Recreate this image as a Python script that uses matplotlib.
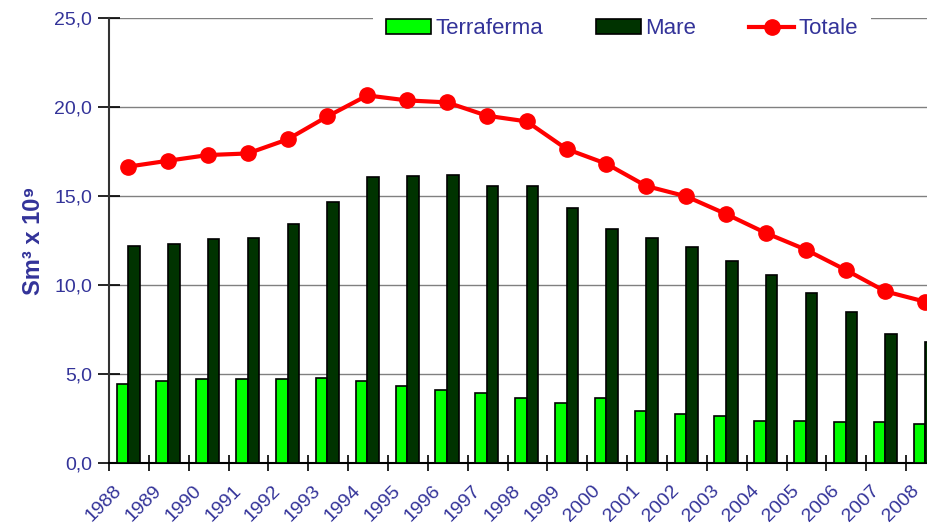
import numpy as np
import matplotlib.pyplot as plt
from matplotlib.ticker import FixedLocator, FuncFormatter
from matplotlib.transforms import ScaledTranslation

plt.rcParams['font.family'] = ['Liberation Sans', 'DejaVu Sans']

anni = [str(a) for a in range(1988, 2009)]
terraferma = [4.44, 4.62, 4.70, 4.74, 4.70, 4.79, 4.59, 4.31, 4.10, 3.93, 3.63,
              3.36, 3.66, 2.90, 2.76, 2.65, 2.35, 2.37, 2.29, 2.31, 2.20]
mare = [12.17, 12.32, 12.56, 12.64, 13.44, 14.66, 16.07, 16.10, 16.16, 15.54, 15.54,
        14.33, 13.12, 12.62, 12.15, 11.33, 10.54, 9.55, 8.48, 7.25, 6.80]
totale = [16.65, 16.98, 17.30, 17.39, 18.18, 19.47, 20.65, 20.37, 20.26, 19.51, 19.19,
          17.64, 16.81, 15.56, 14.98, 13.99, 12.92, 11.99, 10.85, 9.64, 9.06]

blu = '#333399'
x = np.arange(len(anni))
w = 0.29

fig = plt.figure(figsize=(9.28, 5.28), dpi=100)
# l'asse prosegue oltre il bordo destro come nell'originale
ax = fig.add_axes([109/928, 65/528, 837/928, 445/528])

b1 = ax.bar(x - 0.165, terraferma, w, color='#00ff00', edgecolor='black', lw=1.2,
            label='Terraferma', zorder=3)
b2 = ax.bar(x + 0.125, mare, w, color='#003300', edgecolor='black', lw=1.2,
            label='Mare', zorder=3)
l1, = ax.plot(x - 0.02, totale, color='#ff0000', lw=3, marker='o', ms=11,
              label='Totale', zorder=4, clip_on=False)

ax.set_xlim(-0.5, len(anni) - 0.5)
ax.set_ylim(0, 25)
ax.set_yticks(np.arange(0, 26, 5))
ax.yaxis.set_major_formatter(FuncFormatter(lambda v, p: f'{v:.1f}'.replace('.', ',')))
ax.grid(axis='y', color='#808080', lw=1, zorder=0)

# tacche ai confini delle categorie, etichette al centro
ax.xaxis.set_major_locator(FixedLocator(np.arange(-0.5, len(anni), 1.0)))
ax.xaxis.set_major_formatter(FuncFormatter(lambda v, p: ''))
ax.set_xticks(x, minor=True)
ax.set_xticklabels(anni, minor=True, rotation=45, ha='right', va='top',
                   rotation_mode='anchor')
ax.tick_params(axis='x', which='minor', length=0, pad=14, labelsize=14, labelcolor=blu)
ax.tick_params(axis='x', which='major', direction='inout', length=12, width=1.2)
ax.tick_params(axis='y', direction='inout', length=16, width=1.2, labelsize=14,
               labelcolor=blu, pad=4)
sposta = ScaledTranslation(-0.16, 0, fig.dpi_scale_trans)
for t in ax.get_xticklabels(minor=True):
    t.set_transform(t.get_transform() + sposta)

for s in ['top', 'right']:
    ax.spines[s].set_visible(False)
ax.spines['left'].set_color('#333333')
ax.spines['left'].set_linewidth(1.5)
ax.spines['bottom'].set_linewidth(1.5)

ax.set_ylabel('Sm³ x 10⁹', fontsize=17, fontweight='bold', color=blu)
ax.yaxis.set_label_coords(-64/837, 0.5)

leg = fig.legend([b1, b2, l1], ['Terraferma', 'Mare', 'Totale'],
                 loc='center', bbox_to_anchor=(622/928, 1 - 29/528), ncol=3,
                 frameon=True, facecolor='white', edgecolor='none', framealpha=1,
                 fontsize=16, handlelength=2.0, handleheight=0.65,
                 columnspacing=2.4, handletextpad=0.2, borderpad=0.6)
leg.get_frame().set_boxstyle('square', pad=0)
for t in leg.get_texts():
    t.set_color(blu)

fig.savefig('out.png', dpi=100)
